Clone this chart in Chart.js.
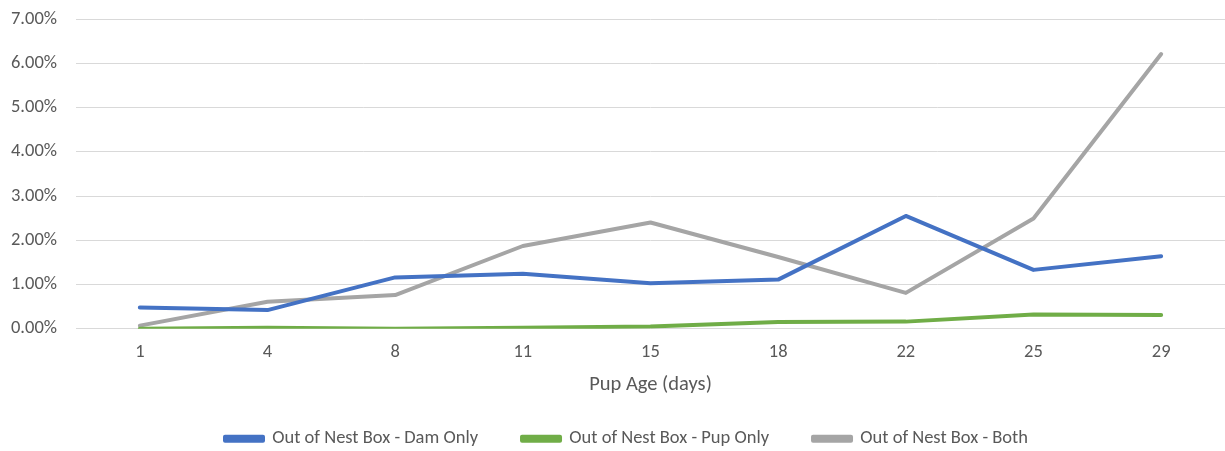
<!DOCTYPE html>
<html>
<head>
<meta charset="utf-8">
<script src="https://cdn.jsdelivr.net/npm/chart.js@4.4.1/dist/chart.umd.min.js"></script>
<style>
    html, body { margin: 0; padding: 0; background: #fff; }
    #wrap { width: 1225px; height: 451px; position: relative; }
</style>
</head>
<body>
<div id="wrap"><canvas id="pupChart"></canvas></div>
<script>
const pupAges = ['1', '4', '8', '11', '15', '18', '22', '25', '29'];
const damOnly = [0.48, 0.42, 1.16, 1.24, 1.03, 1.11, 2.55, 1.33, 1.64];
const pupOnly = [0.00, 0.02, 0.00, 0.02, 0.05, 0.15, 0.16, 0.32, 0.31];
const both = [0.07, 0.61, 0.76, 1.87, 2.40, 1.62, 0.81, 2.49, 6.21];
const yTicks = [0, 1, 2, 3, 4, 5, 6, 7];

const fontFamily = "Carlito, 'Liberation Sans Narrow', 'Liberation Sans', sans-serif";

function makeSeries(label, data, color) {
    return {
        label: label,
        data: data,
        borderColor: color,
        backgroundColor: color,
        borderWidth: 4,
        pointRadius: 0,
        tension: 0,
        borderCapStyle: 'round',
        borderJoinStyle: 'round'
    };
}

// legend reserves a bit less room at the bottom so it sits lower,
// and is nudged right a little like the original
const legendTweaks = {
    id: 'legendTweaks',
    beforeInit(chart) {
        const origFit = chart.legend.fit;
        chart.legend.fit = function () {
            origFit.call(this);
            this.height -= 7;
        };
    },
    afterLayout(chart) {
        chart.legend.left += 12;
        chart.legend.right += 12;
    }
};

const ctx = document.getElementById('pupChart').getContext('2d');
const pupChart = new Chart(ctx, {
    type: 'line',
    data: {
        labels: pupAges,
        datasets: [
            makeSeries('Out of Nest Box - Dam Only', damOnly, '#4472C4'),
            makeSeries('Out of Nest Box - Pup Only', pupOnly, '#70AD47'),
            makeSeries('Out of Nest Box - Both', both, '#A5A5A5')
        ]
    },
    plugins: [legendTweaks],
    options: {
        responsive: true,
        maintainAspectRatio: false,
        animation: false,
        layout: {
            padding: { top: 0, right: -4, bottom: 0, left: 0 }
        },
        plugins: {
            legend: {
                position: 'bottom',
                labels: {
                    boxWidth: 38,
                    boxHeight: 4,
                    padding: 44,
                    color: '#595959',
                    font: { family: fontFamily, size: 18.5 }
                }
            },
            tooltip: { enabled: false }
        },
        scales: {
            x: {
                offset: true,
                grid: { display: false, drawTicks: false },
                border: { display: false },
                ticks: {
                    padding: 13,
                    color: '#595959',
                    font: { family: fontFamily, size: 18.5 }
                },
                title: {
                    display: true,
                    text: 'Pup Age (days)',
                    color: '#595959',
                    padding: { top: -4, bottom: -12 },
                    font: { family: fontFamily, size: 20.5 }
                }
            },
            y: {
                min: 0,
                max: 7,
                afterBuildTicks: scale => {
                    scale.ticks = yTicks.map(v => ({ value: v }));
                },
                afterFit: scale => {
                    scale.width = 76;
                },
                grid: {
                    color: '#d9d9d9',
                    lineWidth: 1,
                    drawTicks: true,
                    tickLength: 11,
                    tickColor: 'rgba(0,0,0,0)'
                },
                border: { display: false },
                ticks: {
                    padding: 8,
                    color: '#595959',
                    font: { family: fontFamily, size: 18.5 },
                    callback: value => value.toFixed(2) + '%'
                }
            }
        }
    }
});
</script>
</body>
</html>
